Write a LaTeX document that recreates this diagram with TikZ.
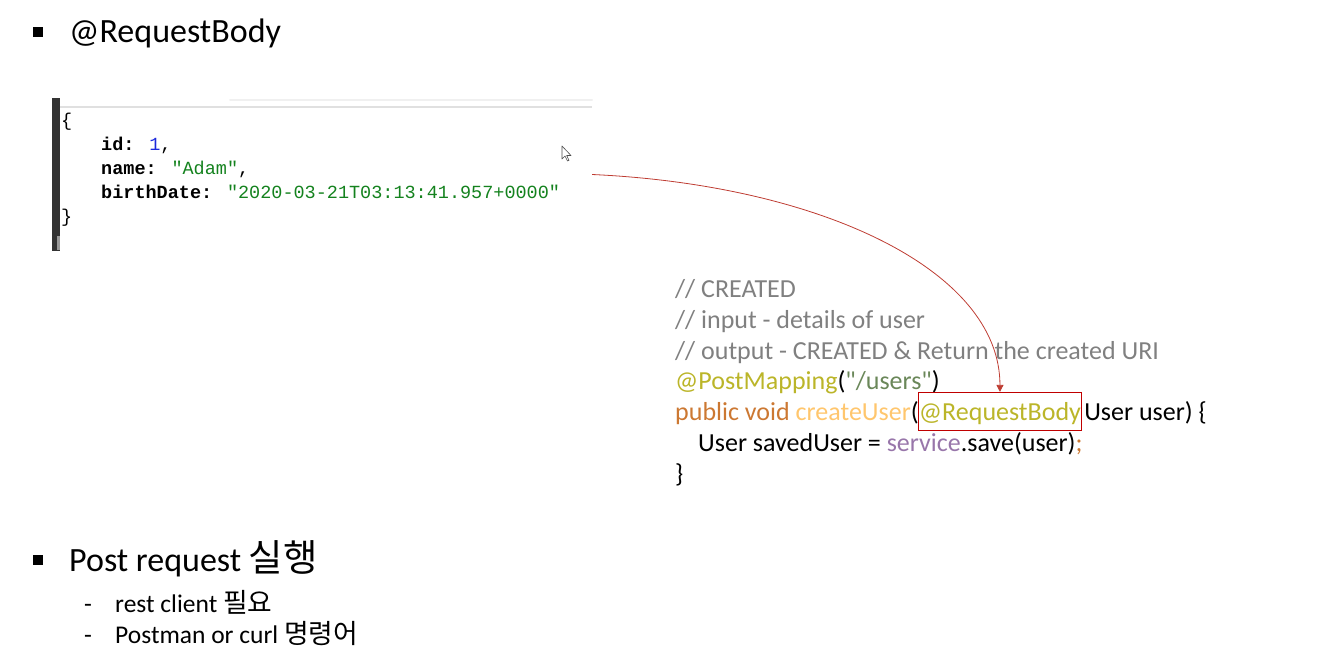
\documentclass[tikz,border=0pt]{standalone}
\usepackage{fontspec}
\setmainfont{Carlito}
\newfontfamily\codefont{Carlito}
\newfontfamily\krtitle{Noto Sans CJK KR}[Scale=1.1]
\newfontfamily\krsub{Noto Sans CJK KR}[Scale=1.05]
\newfontfamily\mono{Liberation Mono}
\usetikzlibrary{arrows.meta}
\definecolor{cmt}{RGB}{128,128,128}
\definecolor{ann}{RGB}{187,181,41}
\definecolor{strg}{RGB}{106,135,89}
\definecolor{kw}{RGB}{204,120,50}
\definecolor{fn}{RGB}{255,198,109}
\definecolor{fld}{RGB}{152,118,170}
\definecolor{jnum}{RGB}{28,40,220}
\definecolor{jstr}{RGB}{20,130,30}
\definecolor{boxred}{RGB}{192,0,0}
\definecolor{arrred}{RGB}{190,60,50}
\tikzset{
  txt/.style={inner sep=0pt, anchor=base west},
  title/.style={txt, font=\fontsize{34}{36}\selectfont},
  sub/.style={txt, font=\fontsize{25.5}{28}\selectfont},
  code/.style={txt, font=\codefont\fontsize{26}{28}\selectfont},
  json/.style={txt, font=\mono\fontsize{18.5}{20}\selectfont},
  bulletsq/.style={fill=black, minimum size=10pt, inner sep=0pt},
}
\begin{document}
\begin{tikzpicture}[x=1pt,y=-1pt]
\useasboundingbox (0,0) rectangle (1338,661);
% title
\node[bulletsq] (b1) at (38,32) {};
\node[title] (t1) at (69,43) {@RequestBody};
% json panel
\node[minimum width=540pt, minimum height=153pt, inner sep=0pt] (panel) at (322,174.5) {};
\fill[black!80] (52,98) rectangle (60,251);
\fill[black!40] (57,236) rectangle (60,250);
\draw[black!12, line width=2pt] (60,107) -- (592,107);
\draw[black!6, line width=2pt, line cap=round] (230,100) -- (592,100);
\node[json] (j0) at (61,126) {\{};
\node[json] (j1) at (101,150) {\textbf{id:} \textcolor{jnum}{1},};
\node[json] (j2) at (101,174) {\textbf{name:} \textcolor{jstr}{"Adam"},};
\node[json] (j3) at (101,198) {\textbf{birthDate:} \textcolor{jstr}{"2020-03-21T03:13:41.957+0000"}};
\node[json] (j4) at (61,222) {\}};
% cursor
\draw[black!70, fill=white, line width=0.6pt, line join=round]
  (562,146) -- (562,159) -- (565,156) -- (567.5,161) -- (569,160.3) -- (566.7,155.5) -- (571,155.5) -- cycle;
% code
\node[code, text=cmt] (c1) at (675,297) {// CREATED};
\node[code, text=cmt] (c2) at (675,328) {// input - details of user};
\node[code, text=cmt] (c3) at (675,359) {// output - CREATED \& Return the created URI};
\node[code] (c4) at (675,389) {\textcolor{ann}{@PostMapping}(\textcolor{strg}{"/users"})};
\node[code] (c5) at (675,420) {\textcolor{kw}{public void} \textcolor{fn}{createUser}(};
\node[code, anchor=base west, draw=boxred, line width=1.2pt, text height=25pt, text depth=8pt, inner ysep=2.5pt, inner xsep=0.5pt, text=ann] (rb) at ([xshift=-1pt]c5.base east) {@RequestBody\hspace{5pt}};
\node[code] (c5b) at ([xshift=2pt]rb.base east) {User user) \{};
\node[code] (c6) at (698,451) {User savedUser = \textcolor{fld}{service}.save(user)\textcolor{kw}{;}};
\node[code] (c7) at (675,482) {\}};
% arrow
\draw[arrred, line width=0.8pt, -{Triangle[width=7pt,length=7pt]}] (panel.east) .. controls (820,185) and (1000,270) .. (rb.north);
% bottom list
\node[bulletsq] (b2) at (38,560) {};
\node[title] (t2) at (69,571) {Post request {\krtitle 실행}};
\node[sub] (d1) at (84,612) {-};
\node[sub] (s1) at (115,612) {rest client {\krsub 필요}};
\node[sub] (d2) at (84,643) {-};
\node[sub] (s2) at (115,643) {Postman or curl {\krsub 명령어}};
\end{tikzpicture}
\end{document}
